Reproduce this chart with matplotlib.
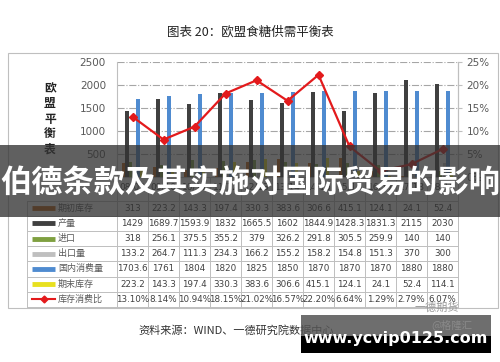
import numpy as np
import matplotlib.pyplot as plt
from matplotlib.patches import Rectangle
from matplotlib.lines import Line2D

plt.rcParams['font.family'] = ['DejaVu Sans', 'Noto Sans CJK SC']

#=========================================================================================
# data

years = ['08/09', '09/10', '10/11', '11/12', '12/13', '13/14', '14/15', '15/16', '16/17', '17/18', '18/19']
open_stock = [313, 223.2, 143.3, 197.4, 330.3, 383.6, 306.6, 415.1, 124.1, 24.1, 52.4]
production = [1429, 1689.7, 1593.9, 1832, 1665.5, 1602, 1844.9, 1428.3, 1831.3, 2115, 2030]
imports = [318, 256.1, 375.5, 355.2, 379, 326.2, 291.8, 305.5, 259.9, 140, 140]
exports = [133.2, 264.7, 111.3, 234.3, 166.2, 155.2, 158.2, 154.8, 151.3, 370, 300]
consumption = [1703.6, 1761, 1804, 1820, 1825, 1850, 1870, 1870, 1870, 1880, 1880]
end_stock = [223.2, 143.3, 197.4, 330.3, 383.6, 306.6, 415.1, 124.1, 24.1, 52.4, 114.1]
ratio = [13.10, 8.14, 10.94, 18.15, 21.02, 16.57, 22.20, 6.64, 1.29, 2.79, 6.07]
ratio_txt = ['13.10%', '8.14%', '10.94%', '18.15%', '21.02%', '16.57%', '22.20%', '6.64%', '1.29%', '2.79%', '6.07%']

bar_names = ['期初库存', '产量', '进口', '出口量', '国内消费量', '期末库存']
bar_data = [open_stock, production, imports, exports, consumption, end_stock]
bar_cols = ['#C0600E', '#404040', '#7FA040', '#BFBFBF', '#4F8BD0', '#E8E020']
line_name = '库存消费比'
line_col = '#E31A1C'

#=========================================================================================

W, H = 500, 362
fig = plt.figure(figsize=(5, 3.62), dpi=100)

# background layer in pixel coords
bg = fig.add_axes([0, 0, 1, 1], zorder=0)
bg.set_xlim(0, W)
bg.set_ylim(H, 0)
bg.axis('off')

bg.text(250, 32, '图表 20：欧盟食糖供需平衡表', ha='center', va='center', fontsize=9,
        color='#222222', family=['Noto Sans CJK SC', 'DejaVu Sans'])
bg.add_patch(Rectangle((8, 53), 490, 255, fill=False, ec='#BFBFBF', lw=0.8))
bg.text(50, 119, '\n'.join('欧盟平衡表'), ha='center', va='center', fontsize=8.5,
        color='#222222', linespacing=1.2, family=['Noto Sans CJK SC'], fontweight='bold')
bg.text(236, 330, '资料来源：WIND、一德研究院数据中心', ha='center', va='center', fontsize=8,
        color='#333333', family=['Noto Sans CJK SC', 'DejaVu Sans'])

# main chart
x0, x1, y0, y1 = 117, 458, 62, 177
ax = fig.add_axes([x0 / W, 1 - y1 / H, (x1 - x0) / W, (y1 - y0) / H], zorder=1)
n = len(years)
x = np.arange(n)
for j in range(6):
    ax.bar(x + (j - 2.5) * 0.118, bar_data[j], width=0.1, color=bar_cols[j], zorder=3)
ax.set_xlim(-0.5, n - 0.5)
ax.set_ylim(0, 2500)
ax.set_yticks(range(0, 2501, 500))
ax.set_yticklabels(['', '500', '1000', '1500', '2000', '2500'], fontsize=7.5, color='#595959')
ax.tick_params(axis='y', length=0, pad=8)
ax.set_xticks(x)
ax.set_xticklabels(years, fontsize=6.5, color='#404040')
ax.tick_params(axis='x', length=0, pad=4)
for v in range(500, 2501, 500):
    ax.axhline(v, color='#A6A6A6', lw=0.8, ls='-.', zorder=1)
for s in ['top']:
    ax.spines[s].set_visible(False)
for s in ['left', 'right', 'bottom']:
    ax.spines[s].set_color('#BFBFBF')

ax2 = ax.twinx()
ax2.set_zorder(2)
ax2.plot(x, ratio, color=line_col, lw=1.6, marker='D', ms=4.5, zorder=4)
ax2.set_ylim(0, 25)
ax2.set_yticks(range(0, 26, 5))
ax2.set_yticklabels(['%d%%' % v for v in range(0, 26, 5)], fontsize=7.5, color='#595959')
ax2.tick_params(axis='y', length=3, color='#BFBFBF', pad=3)
for s in ['top', 'left', 'bottom']:
    ax2.spines[s].set_visible(False)
ax2.spines['right'].set_color('#BFBFBF')

# data table
cw = (x1 - x0) / n
top, rh = 200.5, 15.2
rows = [[str(v) for v in d] for d in bar_data] + [ratio_txt]
names = bar_names + [line_name]
nr = len(rows)
bottom = top + rh * nr
for i in range(n + 1):
    bg.plot([x0 + i * cw] * 2, [y1, bottom], color='#BFBFBF', lw=0.7)
bg.plot([27, 27], [top, bottom], color='#BFBFBF', lw=0.7)
for r in range(nr + 1):
    bg.plot([27, x1], [top + r * rh] * 2, color='#BFBFBF', lw=0.7)
for r in range(nr):
    yc = top + (r + 0.5) * rh
    if r < 6:
        bg.plot([32, 55], [yc, yc], color=bar_cols[r], lw=3.5, solid_capstyle='butt')
    else:
        bg.plot([32, 55], [yc, yc], color=line_col, lw=1.5)
        bg.plot([43.5], [yc], color=line_col, marker='D', ms=3.5)
    bg.text(58, yc, names[r], ha='left', va='center', fontsize=6.5, color='#595959',
            family=['Noto Sans CJK SC'])
    for i in range(n):
        bg.text(x0 + (i + 0.5) * cw, yc, rows[r][i], ha='center', va='center',
                fontsize=6.3, color='#404040')

# overlay banner and watermark
ov = fig.add_axes([0, 0, 1, 1], zorder=10)
ov.set_xlim(0, W)
ov.set_ylim(H, 0)
ov.axis('off')
ov.add_patch(Rectangle((0, 145), W, 72, fc='#333333', alpha=0.78, lw=0))
ov.text(250, 184, '伯德条款及其实施对国际贸易的影响', ha='center', va='center', fontsize=22.5,
        color='white', fontweight='bold', family=['Noto Sans CJK SC'])

ov.text(437, 308, '一德期货', ha='center', va='center', fontsize=8, color='#999999',
        family=['Noto Sans CJK SC'])
ov.add_patch(Rectangle((301, 315), 190, 21, fc='#555555', alpha=0.85, lw=0))
ov.add_patch(Rectangle((301, 336), 190, 17, fc='black', lw=0))
ov.text(452, 325, '@格隆汇', ha='center', va='center', fontsize=7.5, color='#8a8a8a',
        family=['Noto Sans CJK SC', 'DejaVu Sans'])
ov.text(396, 338, 'www.ycvip0125.com', ha='center', va='center', fontsize=11.5,
        color='white', fontweight='bold')

plt.savefig('out.png', dpi=100)
